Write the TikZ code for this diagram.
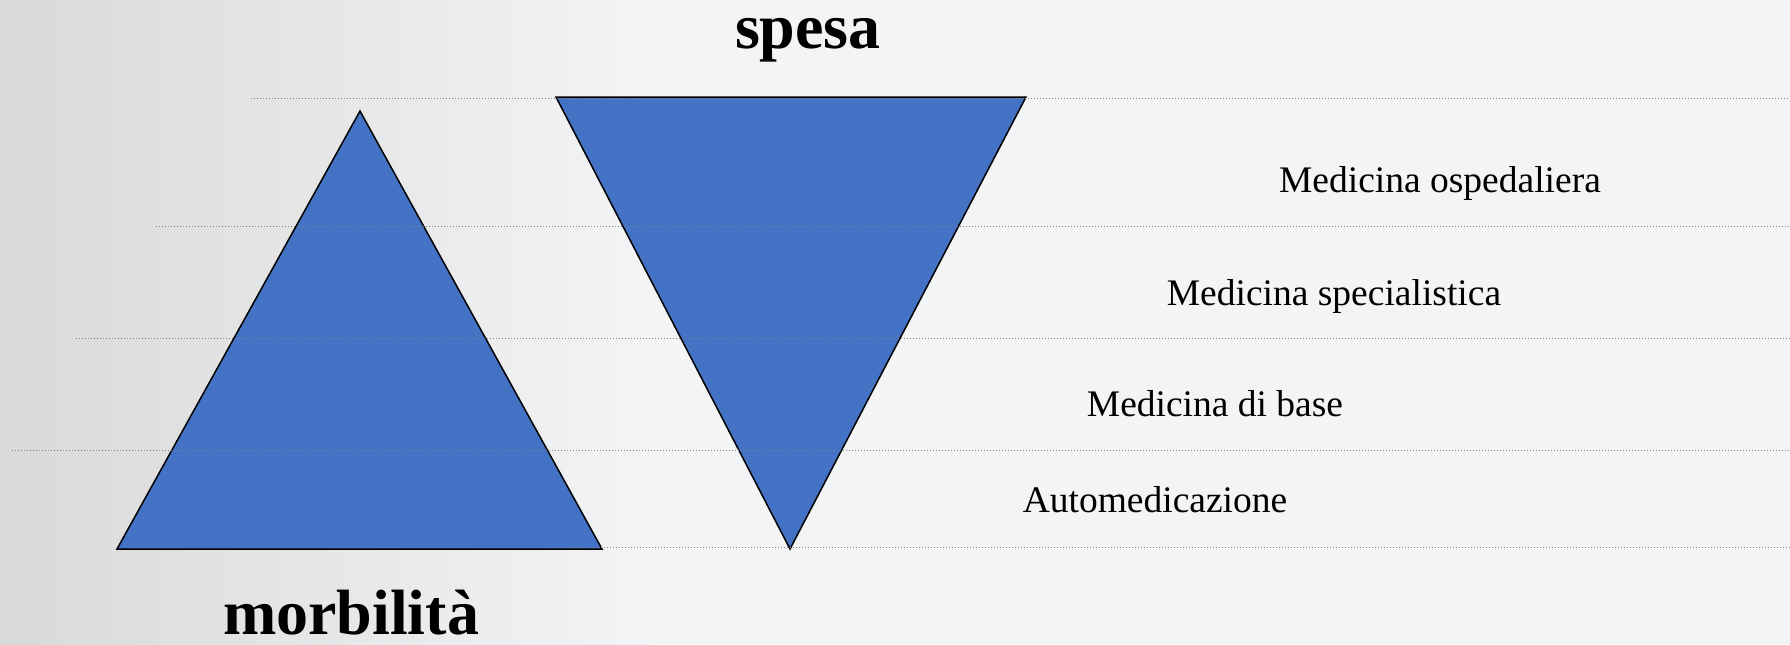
\documentclass[tikz,border=0pt]{standalone}
\usepackage{fontspec}
\setmainfont{Liberation Serif}
\usepackage{tikz}

\definecolor{pyrblue}{HTML}{4472C4}
\definecolor{bgleft}{HTML}{D9D9D9}
\definecolor{bgright}{HTML}{F3F4F6}

\tikzset{
  level/.style={gray, line width=0.5pt, densely dotted},
  pyramid/.style={fill=pyrblue, draw=black, line width=0.75pt},
  title/.style={font=\fontsize{32}{38}\selectfont\bfseries, inner sep=0pt, anchor=base},
  levellabel/.style={font=\fontsize{18.75}{22}\selectfont, inner sep=0pt, anchor=base},
}

\begin{document}
\begin{tikzpicture}[x=0.5pt, y=-0.5pt, line width=0.75pt]
    \useasboundingbox (0,0) rectangle (1790,644);
    \shade[left color=bgleft, right color=bgright] (0,0) rectangle (650,644);
    \fill[bgright] (650,0) rectangle (1790,644);

    % morbilita and spesa
    \filldraw[pyramid] (117,549) -- (360,111) -- (602,549) -- cycle;
    \filldraw[pyramid] (556,97) -- (1026,97) -- (790,549) -- cycle;

    % level lines
    \foreach \xs/\y in {251/98, 156/226, 76/338, 12/450, 556/547}
        \draw[level] (\xs,\y) -- (1790,\y);

    \node[title] (spesa) at (808,48) {spesa};
    \node[title] (morbilita) at (351,634) {morbilità};

    \node[levellabel] (ospedaliera) at (1440,192) {Medicina ospedaliera};
    \node[levellabel] (specialistica) at (1334,305) {Medicina specialistica};
    \node[levellabel] (base) at (1215,416) {Medicina di base};
    \node[levellabel] (auto) at (1155,512) {Automedicazione};
\end{tikzpicture}
\end{document}
